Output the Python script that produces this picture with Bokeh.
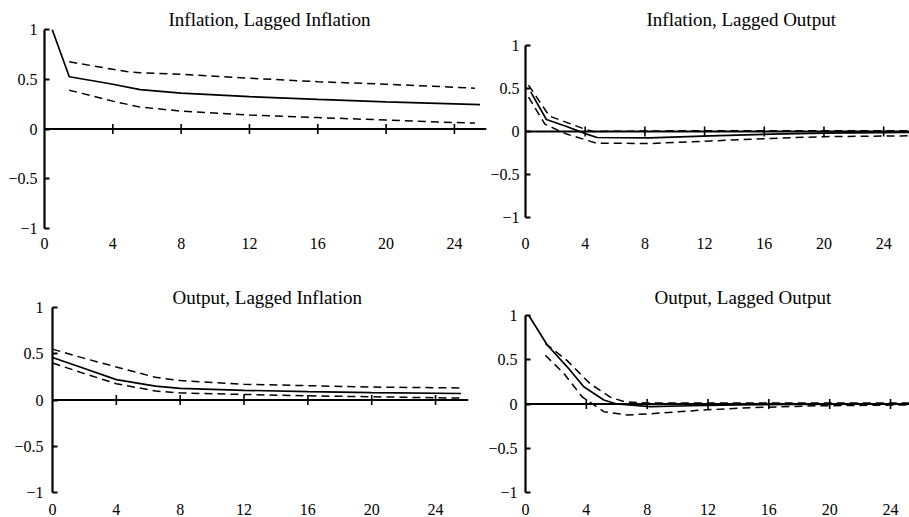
import math
from bokeh.plotting import figure
from bokeh.layouts import column, row
from bokeh.models import Range1d, FixedTicker, Span, Title
from bokeh.embed import file_html
from bokeh.resources import INLINE

FONT = "Liberation Serif"

# ---------------- data ----------------
titles = ["Inflation, Lagged Inflation", "Inflation, Lagged Output",
          "Output, Lagged Inflation", "Output, Lagged Output"]

x_ticks = [0, 4, 8, 12, 16, 20, 24]
zero_ticks = [4, 8, 12, 16, 20, 24]
y_ticks = [-1, -0.5, 0, 0.5, 1]
y_tick_labels = ["\u22121", "\u22120.5", "0", "0.5", "1"]

# Inflation, Lagged Inflation
ii_x_mid = [0.45, 1.45, 3.0, 4.0, 5.6, 8.0, 12.0, 16.0, 20.0, 24.0, 25.5]
ii_mid = [1.0, 0.525, 0.48, 0.45, 0.395, 0.36, 0.325, 0.297, 0.272, 0.252, 0.245]
ii_x_band = [1.45, 4.0, 4.8, 5.6, 8.0, 12.0, 16.0, 20.0, 24.0, 25.2]
ii_up = [0.675, 0.60, 0.578, 0.565, 0.55, 0.51, 0.475, 0.45, 0.42, 0.41]
ii_lo = [0.39, 0.28, 0.25, 0.22, 0.18, 0.14, 0.115, 0.09, 0.065, 0.06]

# Inflation, Lagged Output
io_x_mid = [0.35, 1.4, 2.8, 4.1, 4.8, 8.3, 12.4, 16.5, 20.0, 25.8]
io_mid = [0.46, 0.14, 0.055, -0.03, -0.07, -0.075, -0.05, -0.03, -0.02, -0.01]
io_x_up = [0.2, 1.6, 3.86, 4.5, 8.0, 12.0, 16.0, 20.0, 25.8]
io_up = [0.54, 0.18, 0.035, 0.0, 0.005, 0.01, 0.01, 0.01, 0.01]
io_x_lo = [0.2, 1.3, 2.75, 4.75, 8.3, 12.4, 16.5, 20.0, 25.8]
io_lo = [0.40, 0.085, -0.03, -0.135, -0.14, -0.11, -0.08, -0.06, -0.05]

# Output, Lagged Inflation
oi_x = [0.0, 2.0, 4.0, 6.45, 8.0, 12.0, 16.0, 20.0, 25.6]
oi_mid = [0.46, 0.34, 0.22, 0.15, 0.125, 0.105, 0.09, 0.08, 0.07]
oi_up = [0.55, 0.45, 0.357, 0.245, 0.21, 0.17, 0.155, 0.14, 0.13]
oi_lo = [0.40, 0.285, 0.176, 0.097, 0.076, 0.06, 0.045, 0.035, 0.02]

# Output, Lagged Output
oo_x_mid = [0.22, 1.43, 2.74, 3.83, 5.15, 6.0, 8.2, 10.9, 14.0, 18.0, 25.3]
oo_mid = [1.0, 0.667, 0.42, 0.195, 0.045, 0.0, -0.03, -0.02, -0.01, -0.005, 0.0]
oo_x_up = [1.3, 2.74, 4.27, 5.6, 6.5, 8.0, 12.0, 25.3]
oo_up = [0.686, 0.49, 0.226, 0.075, 0.026, 0.01, 0.01, 0.01]
oo_x_lo = [1.3, 2.5, 3.73, 5.15, 6.7, 8.2, 11.7, 15.0, 19.3, 25.3]
oo_lo = [0.55, 0.35, 0.08, -0.087, -0.124, -0.11, -0.068, -0.04, -0.02, -0.01]


def make_panel(title, mid, upper, lower, width, height, mbl, mbr, mbt, mbb,
               xmax, ymin, ymax, title_offset, xstand, ystand):
    p = figure(width=width, height=height, output_backend="svg", toolbar_location=None,
               x_range=Range1d(0, xmax), y_range=Range1d(ymin, ymax),
               min_border_left=mbl, min_border_right=mbr,
               min_border_top=mbt, min_border_bottom=mbb)
    p.title = Title(text=title, align="left", offset=title_offset, standoff=0,
                    text_font=FONT, text_font_size="19px", text_font_style="normal",
                    text_color="black")
    p.outline_line_color = None
    p.grid.visible = False
    p.background_fill_color = "white"
    p.border_fill_color = "white"

    xa = p.xaxis[0]
    xa.ticker = FixedTicker(ticks=x_ticks)
    xa.axis_line_color = None
    xa.major_tick_line_color = None
    xa.minor_tick_line_color = None
    xa.major_label_standoff = xstand
    xa.major_label_text_font = FONT
    xa.major_label_text_font_size = "16px"
    xa.major_label_text_color = "black"

    ya = p.yaxis[0]
    ya.ticker = FixedTicker(ticks=y_ticks)
    ya.major_label_overrides = dict(zip(y_ticks, y_tick_labels))
    ya.bounds = (-1, 1)
    ya.axis_line_width = 2.2
    ya.axis_line_color = "black"
    ya.major_tick_in = 5
    ya.major_tick_out = 0
    ya.major_tick_line_width = 2
    ya.major_tick_line_color = "black"
    ya.minor_tick_line_color = None
    ya.major_label_standoff = ystand
    ya.major_label_text_font = FONT
    ya.major_label_text_font_size = "16px"
    ya.major_label_text_color = "black"

    p.add_layout(Span(location=0, dimension="width", line_color="black", line_width=2))
    p.scatter(zero_ticks, [0] * len(zero_ticks), marker="dash", angle=math.pi / 2,
              size=10, line_color="black", line_width=1.6)

    p.line(upper[0], upper[1], line_color="black", line_width=1.5, line_dash="8 5")
    p.line(lower[0], lower[1], line_color="black", line_width=1.5, line_dash="8 5")
    p.line(mid[0], mid[1], line_color="black", line_width=1.7)
    return p


p1 = make_panel(titles[0], (ii_x_mid, ii_mid), (ii_x_band, ii_up), (ii_x_band, ii_lo),
                width=487, height=258, mbl=44, mbr=1, mbt=29, mbb=30,
                xmax=(486 - 44) / 17.08, ymin=-1.0, ymax=1.0, title_offset=124,
                xstand=3, ystand=7)
p2 = make_panel(titles[1], (io_x_mid, io_mid), (io_x_up, io_up), (io_x_lo, io_lo),
                width=422, height=258, mbl=35, mbr=0, mbt=29, mbb=30,
                xmax=(909 - 522) / 15.04, ymin=-1 - 11 / 86, ymax=1 + 16 / 86,
                title_offset=121, xstand=3, ystand=6)
p3 = make_panel(titles[2], (oi_x, oi_mid), (oi_x, oi_up), (oi_x, oi_lo),
                width=480, height=259, mbl=52, mbr=12, mbt=49, mbb=25,
                xmax=(468 - 52) / 15.96, ymin=-1.0, ymax=1.0, title_offset=120,
                xstand=5, ystand=9)
p4 = make_panel(titles[3], (oo_x_mid, oo_mid), (oo_x_up, oo_up), (oo_x_lo, oo_lo),
                width=429, height=259, mbl=45, mbr=0, mbt=49, mbb=25,
                xmax=(909 - 525) / 15.21, ymin=-1.0, ymax=1 + 8 / 88.5, title_offset=129,
                xstand=5, ystand=8)

layout = column(row(p1, p2), row(p3, p4))
open("out.html", "w").write(file_html(layout, INLINE))
